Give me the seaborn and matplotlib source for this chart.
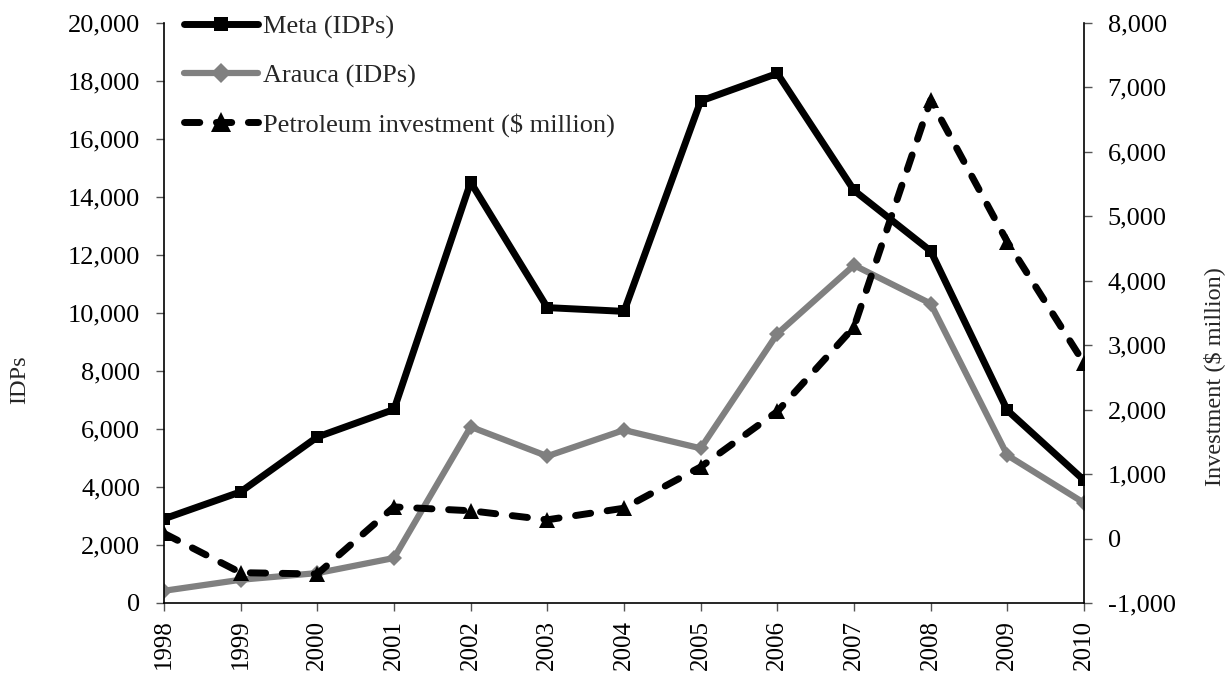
import matplotlib
matplotlib.use("Agg")
import matplotlib.pyplot as plt
import matplotlib.ticker as mticker
import seaborn as sns

# values
years = [1998, 1999, 2000, 2001, 2002, 2003, 2004, 2005, 2006, 2007, 2008, 2009, 2010]
meta_idps = [2900, 3830, 5720, 6670, 14500, 10180, 10050, 17300, 18250, 14220, 12130, 6640, 4230]
arauca_idps = [420, 800, 1030, 1550, 6070, 5060, 5960, 5330, 9280, 11640, 10320, 5090, 3450]
petroleum_inv = [80, -530, -550, 490, 430, 290, 470, 1110, 1970, 3280, 6800, 4600, 2720]

sns.set_theme(style="ticks")
plt.rcParams["font.family"] = ["Liberation Serif", "DejaVu Serif"]

fig, ax = plt.subplots(figsize=(12.31, 6.75), dpi=100)
fig.subplots_adjust(left=0.1332, right=0.8806, top=0.9664, bottom=0.1067)
ax2 = ax.twinx()

sns.lineplot(x=years, y=meta_idps, ax=ax, color="black", lw=5, marker="s",
             markersize=8, markeredgewidth=0, label="Meta (IDPs)")
sns.lineplot(x=years, y=arauca_idps, ax=ax, color="#808080", lw=4.5, marker="D",
             markersize=8, markeredgewidth=0, label="Arauca (IDPs)")
sns.lineplot(x=years, y=petroleum_inv, ax=ax2, color="black", lw=5, marker="^",
             markersize=11, markeredgewidth=0, linestyle=(0, (2.2, 2.4)),
             dash_capstyle="round", label="Petroleum investment ($ million)")

# axes ranges and ticks
ax.set_xlim(1998, 2010)
ax.set_ylim(0, 20000)
ax2.set_ylim(-1000, 8000)
ax.set_xticks(years)
ax.set_xticklabels([str(y) for y in years], rotation=90)
ax.set_yticks(range(0, 20001, 2000))
ax2.set_yticks(range(-1000, 8001, 1000))
fmt = mticker.FuncFormatter(lambda v, p: f"{int(v):,}")
ax.yaxis.set_major_formatter(fmt)
ax2.yaxis.set_major_formatter(fmt)

ax.tick_params(axis="both", length=6, width=1, color="#555555")
ax.tick_params(axis="x", labelsize=18, pad=6)
ax.tick_params(axis="y", labelsize=19, pad=11)
ax2.tick_params(axis="y", labelsize=19, length=6, width=1, color="#555555", pad=11)
for lab in ax.get_xticklabels() + ax.get_yticklabels() + ax2.get_yticklabels():
    lab.set_color("black")

ax.set_xlabel("")
ax.set_ylabel("IDPs", fontsize=17.5)
ax2.set_ylabel("Investment ($ million)", fontsize=17.5)
ax.yaxis.set_label_coords(-0.145, 0.385)
ax2.yaxis.set_label_coords(1.129, 0.391)

for a in (ax, ax2):
    a.spines["top"].set_visible(False)
    for s in a.spines.values():
        s.set_color("black")
        s.set_linewidth(1.2)
ax.spines["right"].set_visible(False)
ax2.spines["left"].set_visible(False)
ax2.spines["bottom"].set_visible(False)

# single legend covering both axes
h1, l1 = ax.get_legend_handles_labels()
h2, l2 = ax2.get_legend_handles_labels()
if ax.get_legend():
    ax.get_legend().remove()
if ax2.get_legend():
    ax2.get_legend().remove()
ax2.legend(h1 + h2, l1 + l2, loc="upper left", bbox_to_anchor=(0.0215, 1.013),
           frameon=False, fontsize=19, handlelength=2.8, handletextpad=0.2,
           labelspacing=0.95, borderaxespad=0, borderpad=0, markerscale=1.3)

fig.savefig("out.png", dpi=100)
plt.close(fig)
